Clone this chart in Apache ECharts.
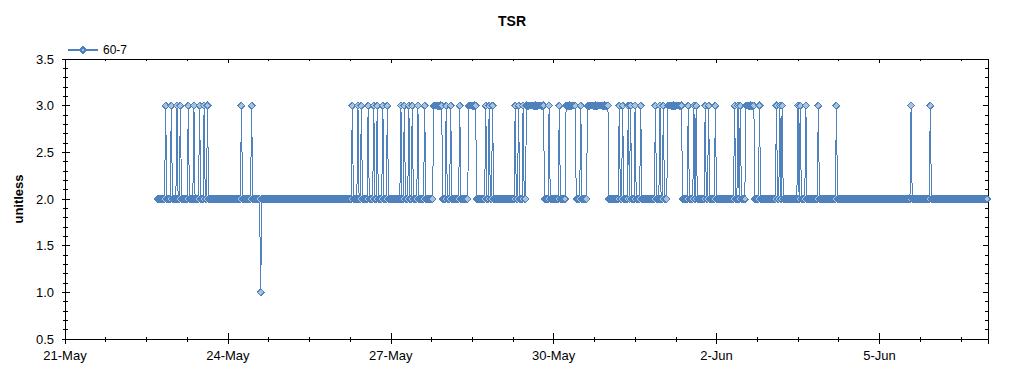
<!DOCTYPE html>
<html><head><meta charset="utf-8">
<script src="https://cdn.jsdelivr.net/npm/echarts@6/dist/echarts.min.js"></script>
<style>html,body{margin:0;padding:0;background:#fff}#c{width:1024px;height:375px}
#c svg path{shape-rendering:crispEdges}</style>
</head><body><div id="c"></div>
<script>
// ---- data ----
const chartTitle = 'TSR';
const seriesName = '60-7';
const yName = 'unitless';
const xTickLabels = ['21-May', '24-May', '27-May', '30-May', '2-Jun', '5-Jun'];
const firstDayOffset = 1;          // first row of readings is 22-May (21-May = day 0)
const readingsPerDay = 48;         // one reading every 30 minutes
// one string per day, one character per 30-min reading ('-' = no reading)
const readingDays = ['22-May','23-May','24-May','25-May','26-May','27-May','28-May','29-May',
                     '30-May','31-May','1-Jun','2-Jun','3-Jun','4-Jun','5-Jun','6-Jun'];
const tsrReadings = [
  '-------- -------- -------- -------- --222222 23222232',
  '22232232 22222322 22322223 22232232 22222222 22222222',
  '22222222 22223222 22222322 22222122 22222222 22222222',
  '22222222 22222222 22222222 22222222 22222222 22222222',
  '22222222 22222232 22232232 22223222 23223222 23222322',
  '22222222 23223222 32232222 32222232 22222233 33333322',
  '23222322 22222322 22222333 33332222 22223223 22322222',
  '22222222 22222232 23222322 33333333 33333333 22223222',
  '22222322 22233333 33332222 32222233 33333333 33333333',
  '32222222 22322322 22323222 32222322 22222222 22322232',
  '23222333 33333333 33222223 22223232 22222232 23222223',
  '22222222 22222222 32232322 22333333 33222232 22222222',
  '22222322 32322222 22222222 32322223 22222222 22322222',
  '22222222 22322222 22222222 22222222 22222222 22222222',
  '22222222 22222222 22222222 22223222 22222222 22222322',
  '22222222 22222222 22222222 22222222 22222222 22222222'
];

// ---- build series points ----
const points = [];
tsrReadings.forEach((row, d) => {
  const r = row.replace(/ /g, '');
  for (let j = 0; j < r.length; j++) {
    if (r[j] === '-') continue;
    points.push([firstDayOffset + d + j / readingsPerDay, Number(r[j])]);
  }
});

const FONT = '"Liberation Sans", Arial, sans-serif';
const black = '#000';
const lineBlue = '#4f81bd';
const markFill = '#a9c3da';
function xAx(position, interval, inside, len, labels) {
  return {
    type: 'value', min: 0, max: 17, interval: interval, position: position,
    axisLine: {show: true, onZero: false, lineStyle: {color: black, width: 1}},
    axisTick: {show: true, inside: inside, length: len, lineStyle: {color: black}},
    axisLabel: labels ? {show: true, margin: 10, color: black, fontSize: 13, fontFamily: FONT,
      formatter: v => { const k = Math.round(v / 3); return (Math.abs(v - 3 * k) < 1e-6 && xTickLabels[k]) ? xTickLabels[k] : ''; }} : {show: false},
    splitLine: {show: false}
  };
}
function yAx(position, inside, len, minorLen, labels) {
  return {
    type: 'value', min: 0.5, max: 3.5, interval: 0.5, position: position,
    axisLine: {show: true, onZero: false, lineStyle: {color: black, width: 1}},
    axisTick: {show: true, inside: inside, length: len, lineStyle: {color: black}},
    minorTick: {show: true, splitNumber: 5, length: minorLen, lineStyle: {color: black}},
    axisLabel: labels ? {show: true, margin: 11, color: black, fontSize: 13, fontFamily: FONT,
      formatter: v => v.toFixed(1)} : {show: false},
    splitLine: {show: false}, minorSplitLine: {show: false},
    name: labels ? yName : '', nameLocation: 'middle', nameGap: 40, nameRotate: 90,
    nameTextStyle: {color: black, fontSize: 13, fontWeight: 'bold', fontFamily: FONT}
  };
}

const chart = echarts.init(document.getElementById('c'), null, {renderer: 'svg'});
chart.setOption({
  animation: false,
  backgroundColor: '#fff',
  title: {text: chartTitle, left: 'center', top: 9,
    textStyle: {color: black, fontSize: 14, fontWeight: 'bold', fontFamily: FONT}},
  legend: {left: 62, top: 39, itemWidth: 30, itemHeight: 8, itemGap: 8,
    textStyle: {color: black, fontSize: 12, fontFamily: FONT}, data: [seriesName]},
  grid: {left: 65, right: 36, top: 59, bottom: 36, containLabel: false},
  xAxis: [
    xAx('bottom', 3, false, 5, true),
    xAx('bottom', 3, true, 6, false),
    xAx('bottom', 0.75, false, 3, false),
    xAx('bottom', 0.75, true, 2, false),
    xAx('top', 0.75, true, 2, false),
    xAx('top', 3, true, 4, false)
  ],
  yAxis: [
    yAx('left', false, 3, 2, true),
    yAx('left', true, 5, 3, false),
    yAx('right', true, 5, 3, false)
  ],
  series: [{
    name: seriesName, type: 'line', xAxisIndex: 0, yAxisIndex: 0,
    data: points, symbol: 'diamond', symbolSize: 7, showSymbol: true, showAllSymbol: true,
    color: lineBlue,
    lineStyle: {color: lineBlue, width: 1},
    itemStyle: {color: markFill, borderColor: lineBlue, borderWidth: 1},
    emphasis: {disabled: true}, z: 2
  }, {
    name: seriesName, type: 'scatter', xAxisIndex: 0, yAxisIndex: 0,
    data: points, symbol: 'diamond', symbolSize: 7, large: false,
    itemStyle: {color: markFill, borderColor: lineBlue, borderWidth: 1, opacity: 1},
    emphasis: {disabled: true}, z: 3
  }]
});
</script></body></html>
